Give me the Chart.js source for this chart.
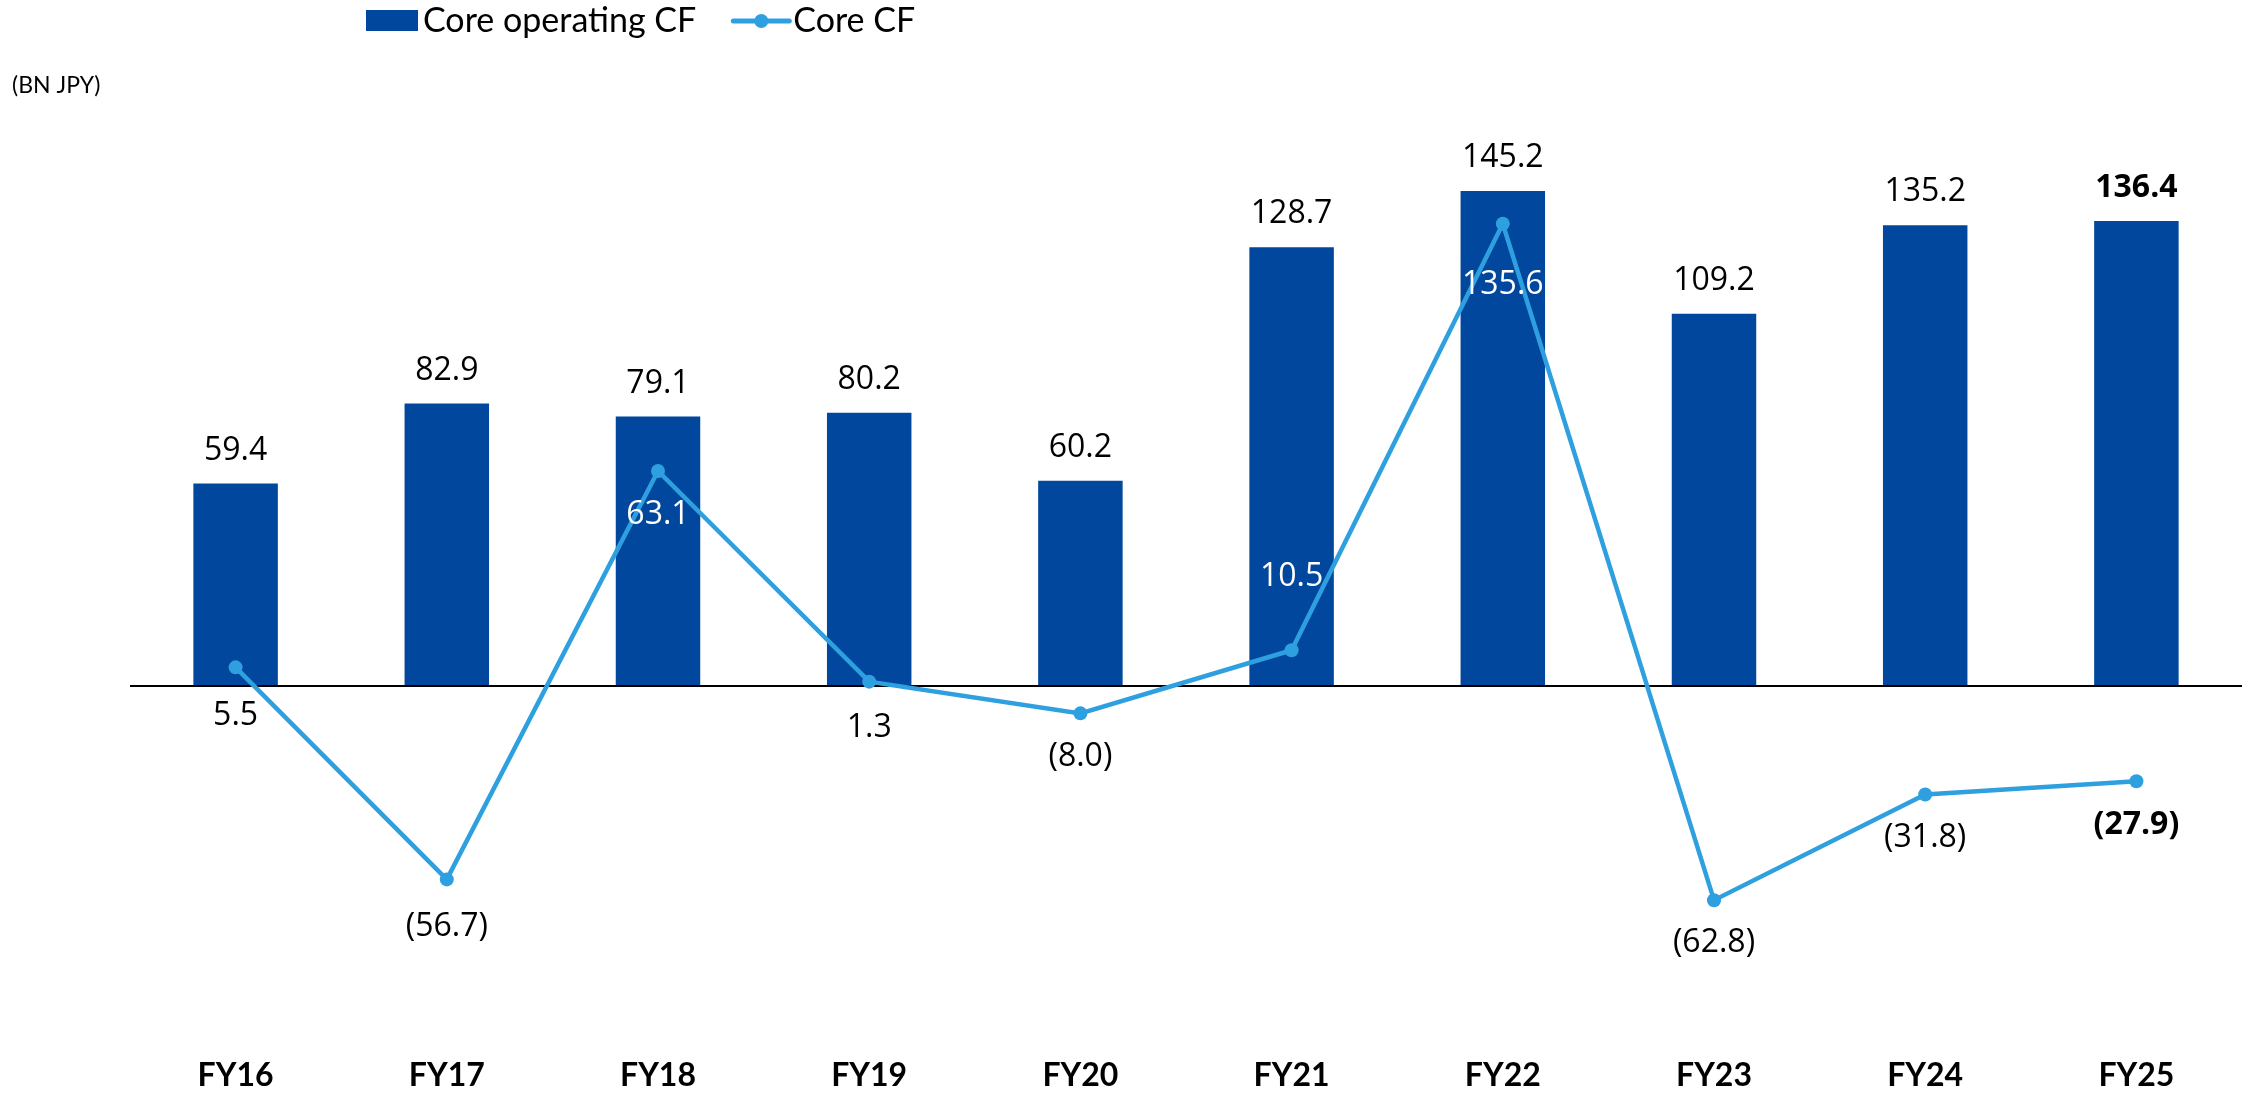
<!DOCTYPE html>
<html>
<head>
<meta charset="utf-8">
<script src="https://cdn.jsdelivr.net/npm/chart.js@4"></script>
<style>
  html, body { margin: 0; padding: 0; background: #ffffff; }
  #wrap { width: 2249px; height: 1094px; position: relative; }
</style>
</head>
<body>
<div id="wrap"><canvas id="c" width="2249" height="1094"></canvas></div>
<script>
// ---- data ----
const categories = ['FY16', 'FY17', 'FY18', 'FY19', 'FY20', 'FY21', 'FY22', 'FY23', 'FY24', 'FY25'];
const coreOperatingCF = [59.4, 82.9, 79.1, 80.2, 60.2, 128.7, 145.2, 109.2, 135.2, 136.4];
const coreCF = [5.5, -56.7, 63.1, 1.3, -8.0, 10.5, 135.6, -62.8, -31.8, -27.9];
const seriesNames = ['Core operating CF', 'Core CF'];
const unitLabel = '(BN JPY)';

// ---- style ----
const BAR_COLOR = '#01479D';
const LINE_COLOR = '#2FA0DF';
const highlightIndex = categories.length - 1;           // latest year shown in bold
const lineLabelOffset = [49, 48, 44, 46, 44, -73, 61, 43, 43, 44]; // px from point (+ below)
const LABEL_FONT = '"Open Sans", "DejaVu Sans", sans-serif';
const LEGEND_FONT = 'Lato, "Noto Sans", sans-serif';

function fmt(v) {
  return v < 0 ? '(' + Math.abs(v).toFixed(1) + ')' : v.toFixed(1);
}

const customPlugin = {
  id: 'custom',
  afterDatasetDraw(chart, args) {
    if (args.index !== 0) return;
    const ctx = chart.ctx;
    const y0 = chart.scales.y.getPixelForValue(0);
    ctx.save();
    ctx.strokeStyle = '#000000';
    ctx.lineWidth = 2;
    ctx.beginPath();
    ctx.moveTo(chart.chartArea.left, y0);
    ctx.lineTo(chart.chartArea.right, y0);
    ctx.stroke();
    ctx.restore();
  },
  afterDatasetsDraw(chart) {
    const ctx = chart.ctx;
    const barMeta = chart.getDatasetMeta(0);
    const lineMeta = chart.getDatasetMeta(1);
    const y0 = chart.scales.y.getPixelForValue(0);
    ctx.save();
    ctx.textAlign = 'center';
    ctx.textBaseline = 'middle';
    // bar labels
    barMeta.data.forEach((bar, i) => {
      const bold = i === highlightIndex;
      ctx.font = (bold ? 'bold ' : '') + '32px ' + LABEL_FONT;
      ctx.fillStyle = '#000000';
      ctx.fillText(fmt(coreOperatingCF[i]), bar.x, bar.y - 33);
    });
    // line labels
    lineMeta.data.forEach((pt, i) => {
      const bold = i === highlightIndex;
      const lx = pt.x;
      const ly = pt.y + lineLabelOffset[i];
      const bar = barMeta.data[i];
      const half = bar.width / 2;
      const inside = lx > bar.x - half && lx < bar.x + half && ly > bar.y && ly < y0;
      ctx.font = (bold ? 'bold ' : '') + '32px ' + LABEL_FONT;
      ctx.fillStyle = inside ? '#ffffff' : '#000000';
      ctx.fillText(fmt(coreCF[i]), lx, ly);
    });
    ctx.restore();
  },
  afterDraw(chart) {
    const ctx = chart.ctx;
    ctx.save();
    // unit label
    ctx.font = '23px ' + LEGEND_FONT;
    ctx.fillStyle = '#000000';
    ctx.textAlign = 'left';
    ctx.textBaseline = 'middle';
    ctx.fillText(unitLabel, 12, 86);
    // legend
    const cy = 21;
    let x = 366;
    ctx.font = '34px ' + LEGEND_FONT;
    // bar item
    ctx.fillStyle = chart.data.datasets[0].backgroundColor;
    ctx.fillRect(x, 10, 52, 21);
    x += 57;
    ctx.fillStyle = '#000000';
    ctx.fillText(chart.data.datasets[0].label, x, cy);
    x += ctx.measureText(chart.data.datasets[0].label).width + 37;
    // line item
    ctx.strokeStyle = chart.data.datasets[1].borderColor;
    ctx.lineWidth = 5;
    ctx.lineCap = 'round';
    ctx.beginPath();
    ctx.moveTo(x, cy);
    ctx.lineTo(x + 56, cy);
    ctx.stroke();
    ctx.fillStyle = chart.data.datasets[1].borderColor;
    ctx.beginPath();
    ctx.arc(x + 28, cy, 7, 0, Math.PI * 2);
    ctx.fill();
    x += 60;
    ctx.fillStyle = '#000000';
    ctx.fillText(chart.data.datasets[1].label, x, cy);
    ctx.restore();
  }
};

new Chart(document.getElementById('c'), {
  type: 'bar',
  data: {
    labels: categories,
    datasets: [
      {
        type: 'bar',
        label: seriesNames[0],
        data: coreOperatingCF,
        backgroundColor: BAR_COLOR,
        borderWidth: 0,
        barPercentage: 0.4,
        categoryPercentage: 1.0,
        order: 1
      },
      {
        type: 'line',
        label: seriesNames[1],
        data: coreCF,
        borderColor: LINE_COLOR,
        backgroundColor: LINE_COLOR,
        borderWidth: 4.5,
        pointRadius: 7,
        pointBorderWidth: 0,
        pointBackgroundColor: LINE_COLOR,
        tension: 0,
        order: 0
      }
    ]
  },
  options: {
    responsive: false,
    animation: false,
    devicePixelRatio: 1,
    layout: { padding: { top: 140.6, left: 130, right: 0, bottom: 0 } },
    plugins: {
      legend: { display: false },
      tooltip: { enabled: false },
      title: { display: false }
    },
    scales: {
      x: {
        grid: { display: false, drawTicks: false },
        border: { display: false },
        ticks: {
          padding: 29,
          color: '#000000',
          font: { family: 'Lato, "Noto Sans", sans-serif', size: 32, weight: 'bold' },
          maxRotation: 0,
          autoSkip: false
        },
        afterFit(scale) { scale.height = 67; }
      },
      y: {
        display: false,
        min: -100,
        max: 160
      }
    }
  },
  plugins: [customPlugin]
});
</script>
</body>
</html>
